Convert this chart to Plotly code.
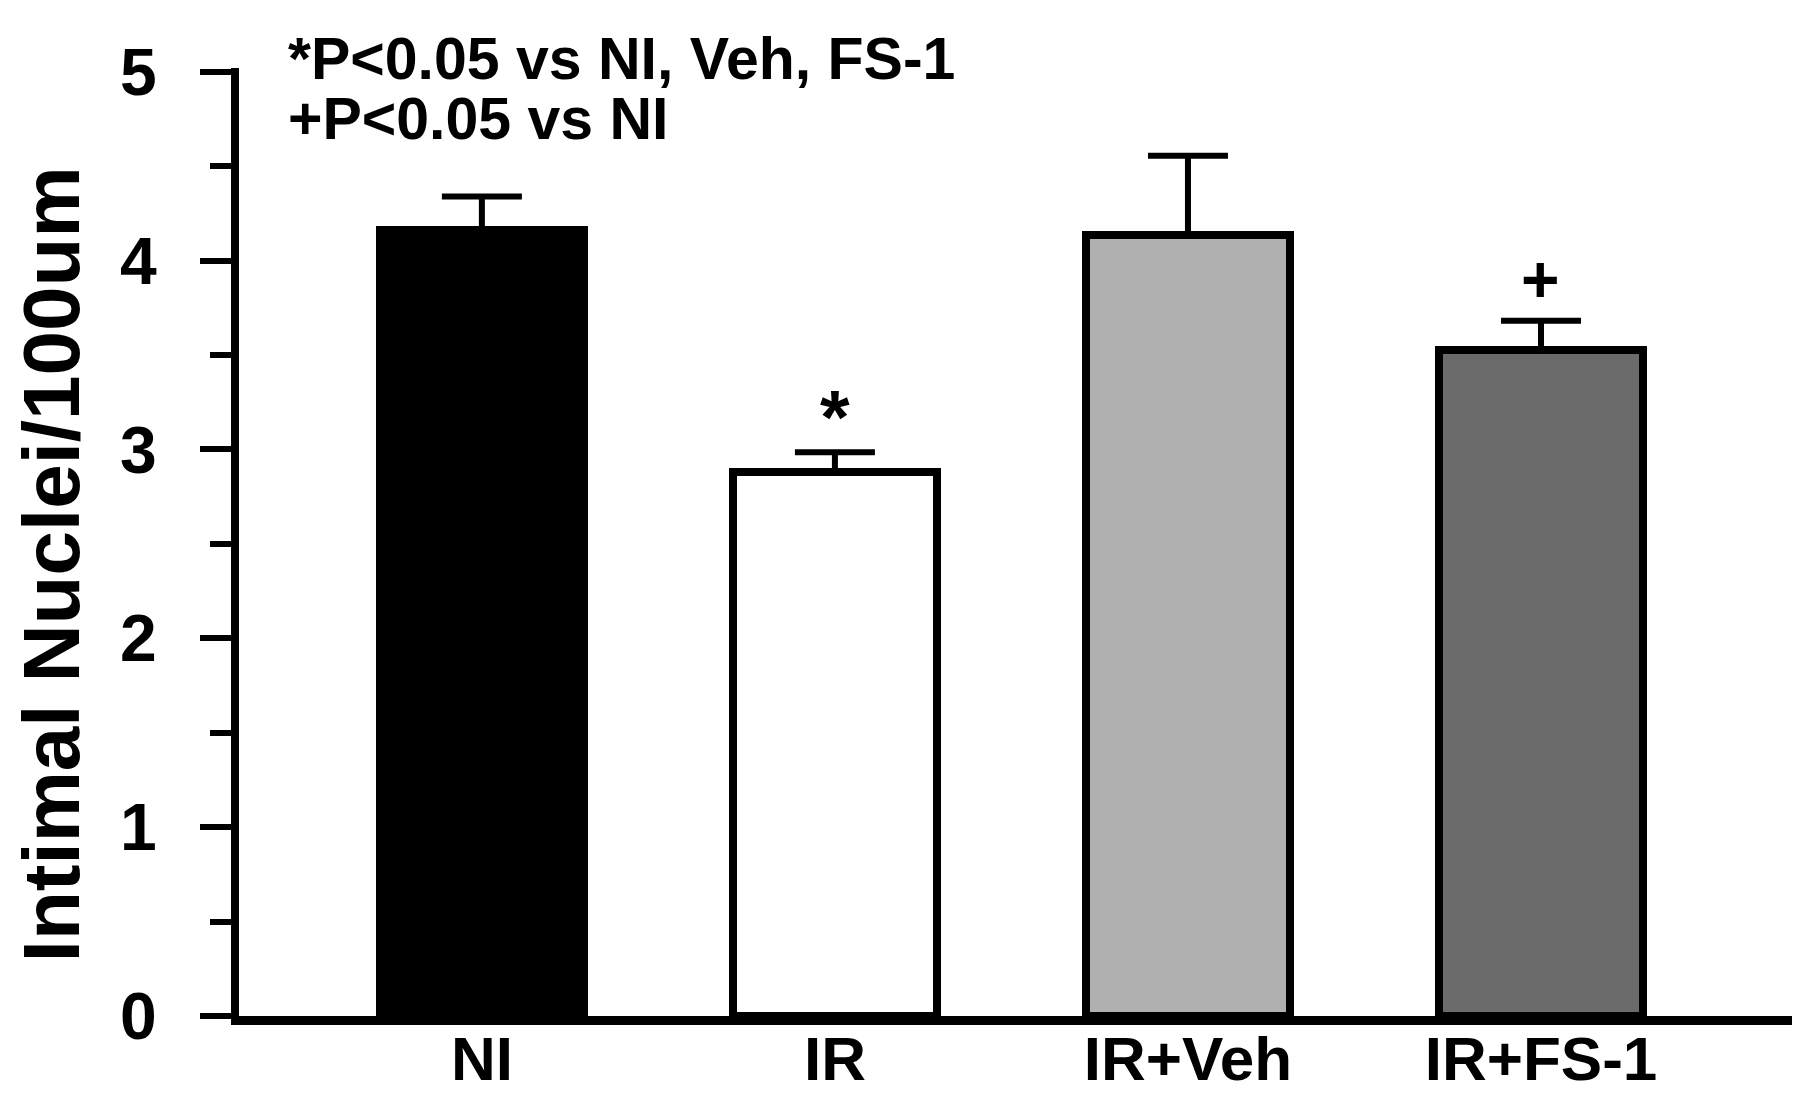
import plotly.graph_objects as go

categories = ["NI", "IR", "IR+Veh", "IR+FS-1"]
means = [4.16, 2.88, 4.135, 3.525]
sem_up = [0.18, 0.105, 0.42, 0.157]
bar_colors = ["#000000", "#ffffff", "#b0b0b0", "#6b6b6b"]
sig_marks = ["", "*", "", "+"]
sig_sizes = [0, 76, 0, 66]
sig_shift = [0, -9, 0, 3]
y_ticks = [0, 1, 2, 3, 4, 5]
note_lines = ["*P<0.05 vs NI, Veh, FS-1", "+P<0.05 vs NI"]
y_title = "Intimal Nuclei/100um"

FONT = "Liberation Sans, Arial, Helvetica, sans-serif"
L, R, T, B = 231, 10, 60, 98
PW = 1800 - L - R

fig = go.Figure()
fig.add_trace(go.Bar(
    x=categories, y=means, width=0.578,
    marker=dict(color=bar_colors, line=dict(color="black", width=8)),
    error_y=dict(type="data", symmetric=False, array=sem_up,
                 arrayminus=[0] * len(means), color="black",
                 thickness=6, width=40),
    showlegend=False, hoverinfo="skip",
))

# significance marks above the error bars
for c, m, e, s, fs, sh in zip(categories, means, sem_up, sig_marks, sig_sizes, sig_shift):
    if s:
        fig.add_annotation(x=c, y=m + e, xref="x", yref="y", text=s,
                           showarrow=False, yanchor="bottom", yshift=sh,
                           font=dict(family=FONT, size=fs, color="black", weight="bold"))

# legend notes
for i, line in enumerate(note_lines):
    fig.add_annotation(x=(278 - L) / PW, y=[1.009, 0.946][i], xref="paper", yref="paper",
                       text=line, showarrow=False, xanchor="left", yanchor="middle",
                       font=dict(family=FONT, size=59, color="black", weight="bold"))

fig.add_annotation(x=-L / PW, y=0.476, xref="paper", yref="paper", text=y_title,
                   showarrow=False, textangle=-90, xanchor="left", yanchor="middle",
                   xshift=-3,
                   font=dict(family=FONT, size=80, color="black", weight="bold"))

fig.update_layout(
    width=1800, height=1106,
    margin=dict(l=L, r=R, t=T, b=B, autoexpand=False),
    paper_bgcolor="white", plot_bgcolor="white",
    bargap=0,
    xaxis=dict(range=[-0.688, 3.728], showline=True, linecolor="black", linewidth=9,
               ticks="", ticklen=0, showgrid=False, zeroline=False, automargin=False,
               tickfont=dict(family=FONT, size=62, color="black", weight="bold"),
               ticklabelstandoff=-19),
    yaxis=dict(range=[0, 5.02], showline=True, linecolor="black", linewidth=8,
               tickvals=y_ticks, ticks="outside", ticklen=31, tickwidth=6, tickcolor="black",
               minor=dict(dtick=0.5, tick0=0, ticks="outside", ticklen=21, tickwidth=6,
                          tickcolor="black", showgrid=False),
               showgrid=False, zeroline=False, automargin=False,
               tickfont=dict(family=FONT, size=66, color="black", weight="bold"),
               ticklabelstandoff=30),
)

fig.write_html("out.html")
